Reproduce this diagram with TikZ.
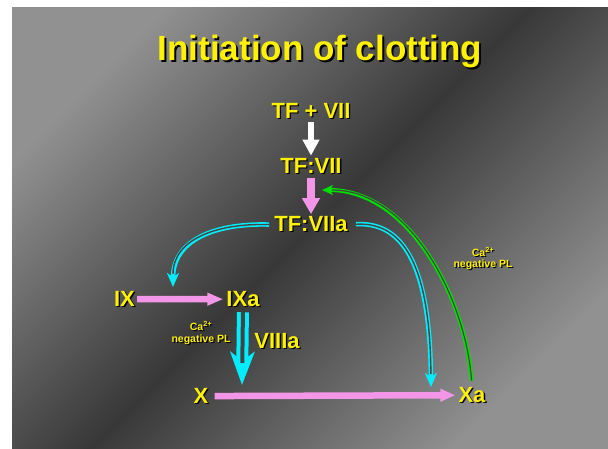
\documentclass[tikz,border=0pt]{standalone}
\usepackage{fontspec}
\setmainfont{Liberation Sans}
\usetikzlibrary{arrows.meta}
\definecolor{pinkarr}{RGB}{243,150,232}
\definecolor{cyanarr}{RGB}{0,238,255}
\definecolor{greenarr}{RGB}{0,225,0}
\definecolor{bglight}{RGB}{145,145,145}
\definecolor{bgdark}{RGB}{56,56,56}
\definecolor{gapgray}{RGB}{68,68,68}
\newcommand\shd[1]{\rlap{\kern1.3pt\raisebox{-1.3pt}{\color{black}#1}}#1}
\newcommand\shdt[1]{\rlap{\kern2pt\raisebox{-2pt}{\color{black}#1}}#1}
\begin{document}
\begin{tikzpicture}[x=1pt,y=-1pt,
  lbl/.style={text=yellow, font=\bfseries\fontsize{22}{24}\selectfont, inner sep=0pt, anchor=base},
  ttl/.style={text=yellow, font=\bfseries\fontsize{35}{38}\selectfont, inner sep=0pt, anchor=base},
  note/.style={text=yellow, font=\bfseries\fontsize{10.5}{11.5}\selectfont, align=center, inner sep=0pt},
  parrow/.style={pinkarr, line width=#1},
  cyanouter/.style={cyanarr, line width=4.5pt},
  cyaninner/.style={gapgray, line width=1.4pt},
  greenouter/.style={greenarr, line width=4pt},
  greeninner/.style={gapgray, line width=1.2pt}]
\fill[white] (0,0) rectangle (608,448);
\shade[top color=bglight, bottom color=bglight, middle color=bgdark, shading angle=45] (12,7) rectangle (608,448);
\useasboundingbox (0,0) rectangle (608,448);

\node[ttl] (title) at (320,60) {\shdt{Initiation of clotting}};

\node[lbl] (tf) at (311,118) {\shd{TF + VII}};
\node[lbl] (tfvii) at (311,173) {\shd{TF:VII}};
\node[lbl] (tfviia) at (311,231.5) {\shd{TF:VIIa}};
\node[lbl] (ix) at (124.5,306) {\shd{IX}};
\node[lbl] (ixa) at (243,306) {\shd{IXa}};
\node[lbl] (viiia) at (277,348) {\shd{VIIIa}};
\node[lbl] (x) at (201,403) {\shd{X}};
\node[lbl] (xa) at (472,402) {\shd{Xa}};

\node[note] (n1) at (201,333.5) {\shd{Ca\textsuperscript{2+}}\\\shd{negative PL}};
\node[note] (n2) at (483,259) {\shd{Ca\textsuperscript{2+}}\\\shd{negative PL}};

\coordinate (c9) at (173,287);
\coordinate (c10) at (431,387);
\coordinate (c11) at (322,190);
\coordinate (c12) at (242,385);

% white arrow
\draw[white, line width=6pt, -{Triangle[length=16pt,width=16pt]}, shorten <=2.5pt, shorten >=2pt] (tf.south) -- (tfvii.north);
% pink arrows
\draw[parrow=7.5pt, -{Triangle[length=16pt,width=17pt]}, shorten <=3pt, shorten >=2pt] (tfvii.south) -- (tfviia.north);
\draw[parrow=6.5pt, -{Triangle[length=16pt,width=12pt]}, shorten <=2pt, shorten >=3pt] (ix.east) -- (ixa.west);
\draw[parrow=6.5pt, -{Triangle[length=15pt,width=12pt]}, shorten <=6pt, shorten >=3pt] (x.east) -- (xa.west);

% big cyan arrow
\draw[cyanarr, line width=12pt, -{Stealth[length=33pt,width=24pt,inset=9pt]}, shorten <=4.5pt] (ixa.south) -- (c12);
\draw[gapgray, line width=4pt, shorten <=4.5pt, shorten >=22pt] (ixa.south) -- (c12);

% cyan arcs
\draw[cyanouter, -{Stealth[length=14pt,width=12pt,inset=4pt]}, shorten <=5pt] (tfviia.west) .. controls (215,223) and (173,240) .. (c9);
\draw[cyaninner, shorten <=5pt, shorten >=13pt] (tfviia.west) .. controls (215,223) and (173,240) .. (c9);
\draw[cyanouter, -{Stealth[length=14pt,width=12pt,inset=4pt]}, shorten <=8pt] (tfviia.east) .. controls (395,222) and (430,250) .. (c10);
\draw[cyaninner, shorten <=8pt, shorten >=13pt] (tfviia.east) .. controls (395,222) and (430,250) .. (c10);

% green arc
\draw[greenouter, -{Stealth[length=11pt,width=10pt,inset=3pt]}, shorten <=6pt] (xa.north) .. controls (466,300) and (410,190) .. (c11);
\draw[greeninner, shorten <=6pt, shorten >=10pt] (xa.north) .. controls (466,300) and (410,190) .. (c11);
\end{tikzpicture}
\end{document}
